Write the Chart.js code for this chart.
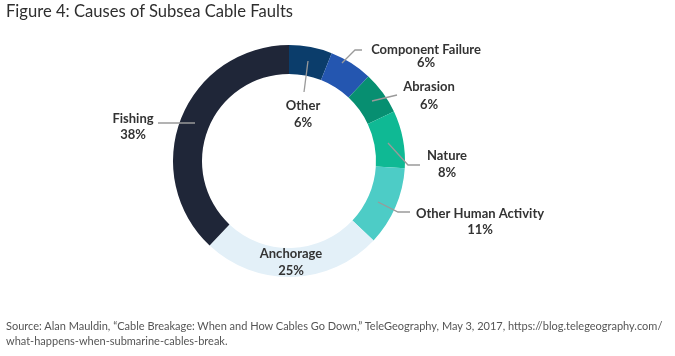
<!DOCTYPE html>
<html>
<head>
<meta charset="utf-8">
<script src="https://cdn.jsdelivr.net/npm/chart.js@4.4.1/dist/chart.umd.min.js"></script>
<style>
  html, body { margin: 0; padding: 0; background: #ffffff; }
  #wrap { position: relative; width: 675px; height: 356px; overflow: hidden; }
  #chart { position: absolute; left: 0; top: 0; }
  #title { position: absolute; left: 6px; top: 1px; font-family: Lato, "Open Sans", sans-serif; font-size: 16.6px; color: #2e2e2e; white-space: nowrap; }
  #source { position: absolute; left: 6px; top: 318px; font-family: Lato, "Open Sans", sans-serif; font-size: 11px; line-height: 15px; color: #555555; white-space: nowrap; }
</style>
</head>
<body>
<div id="wrap">
  <canvas id="chart" width="675" height="356"></canvas>
  <div id="title">Figure 4: Causes of Subsea Cable Faults</div>
  <div id="source">Source: Alan Mauldin, “Cable Breakage: When and How Cables Go Down,” TeleGeography, May 3, 2017, https://blog.telegeography.com/<br>what-happens-when-submarine-cables-break.</div>
</div>
<script>
// ---- data ----
const categories = ["Other", "Component Failure", "Abrasion", "Nature", "Other Human Activity", "Anchorage", "Fishing"];
const shares = [6, 6, 6, 8, 11, 25, 38];
const valueLabels = ["6%", "6%", "6%", "8%", "11%", "25%", "38%"];

// ---- styles ----
const colors = ["#0b3d6b", "#2456b0", "#078f71", "#0fb994", "#4dccc6", "#e3f0f8", "#1f2638"];

// label layout: leader points and text centre, offsets from doughnut centre (for radius 116)
const labelLayout = [
  { line: [[19, -100], [15, -69]], text: [14, -55], gap: 17 },
  { line: [[53, -98], [66, -111], [73, -111]], text: [137, -111], gap: 13 },
  { line: [[83, -60], [108, -66]], text: [140, -74], gap: 18 },
  { line: [[99, -18], [119, 4], [131, 4]], text: [158, -5], gap: 17 },
  { line: [[89, 41], [109, 51], [121, 51]], text: [191, 53], gap: 16 },
  { line: null, text: [2, 93], gap: 17 },
  { line: [[-94, -38], [-131, -38]], text: [-156, -42], gap: 16 }
];

const labelPlugin = {
  id: 'labelPlugin',
  afterDatasetsDraw(chart) {
    const ctx = chart.ctx;
    const meta = chart.getDatasetMeta(0);
    meta.data.forEach((arc, i) => {
      const p = arc.getProps(['x', 'y', 'outerRadius'], true);
      const s = p.outerRadius / 116;
      const L = labelLayout[i];
      ctx.save();
      if (L.line) {
        ctx.strokeStyle = '#9a9a9a';
        ctx.lineWidth = 1.3;
        ctx.beginPath();
        L.line.forEach((pt, k) => {
          const px = p.x + pt[0] * s, py = p.y + pt[1] * s;
          if (k === 0) ctx.moveTo(px, py); else ctx.lineTo(px, py);
        });
        ctx.stroke();
      }
      ctx.fillStyle = '#333333';
      ctx.font = 'bold 13px Lato, "Open Sans", sans-serif';
      ctx.textAlign = 'center';
      ctx.textBaseline = 'middle';
      const tx = p.x + L.text[0] * s, ty = p.y + L.text[1] * s;
      ctx.fillText(categories[i], tx, ty);
      ctx.fillText(valueLabels[i], tx, ty + L.gap);
      ctx.restore();
    });
  }
};

new Chart(document.getElementById('chart'), {
  type: 'doughnut',
  data: {
    labels: categories,
    datasets: [{
      data: shares,
      backgroundColor: colors,
      borderWidth: 0,
      hoverOffset: 0
    }]
  },
  options: {
    responsive: false,
    animation: false,
    cutout: '75%',
    rotation: 0,
    layout: { padding: { left: 173, right: 270, top: 45, bottom: 79 } },
    plugins: {
      legend: { display: false },
      tooltip: { enabled: false },
      title: { display: false }
    }
  },
  plugins: [labelPlugin]
});
</script>
</body>
</html>
